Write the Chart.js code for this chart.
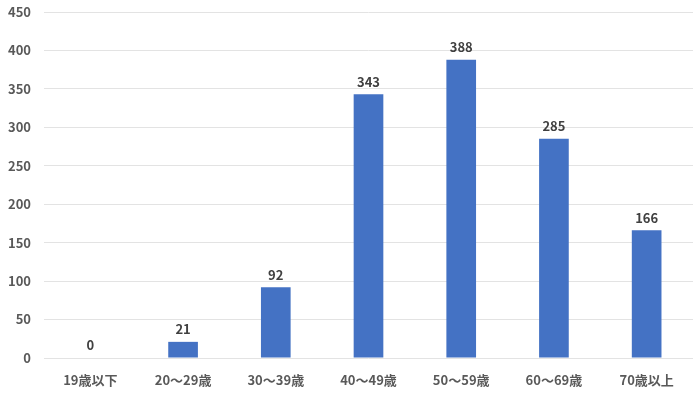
<!DOCTYPE html>
<html>
<head>
<meta charset="utf-8">
<script src="https://cdn.jsdelivr.net/npm/chart.js@4/dist/chart.umd.min.js"></script>
<style>
  html, body { margin: 0; padding: 0; background: #fff; }
  canvas { display: block; }
</style>
</head>
<body>
<canvas id="chart" width="700" height="394"></canvas>
<script>
const categories = ['19歳以下', '20～29歳', '30～39歳', '40～49歳', '50～59歳', '60～69歳', '70歳以上'];
const counts = [0, 21, 92, 343, 388, 285, 166];
const yTicks = [0, 50, 100, 150, 200, 250, 300, 350, 400, 450];

const fontFamily = '"Noto Sans CJK JP", "Noto Sans", sans-serif';

// draw value labels above each bar
const valueLabels = {
    id: 'valueLabels',
    afterDatasetsDraw(chart) {
        const ctx = chart.ctx;
        const meta = chart.getDatasetMeta(0);
        ctx.save();
        ctx.font = 'bold 13px ' + fontFamily;
        ctx.fillStyle = '#404040';
        ctx.textAlign = 'center';
        ctx.textBaseline = 'bottom';
        meta.data.forEach((bar, i) => {
            ctx.fillText(String(counts[i]), bar.x, bar.y - 6);
        });
        ctx.restore();
    }
};

new Chart(document.getElementById('chart'), {
    type: 'bar',
    data: {
        labels: categories,
        datasets: [{
            data: counts,
            backgroundColor: '#4472C4',
            categoryPercentage: 1,
            barPercentage: 0.32
        }]
    },
    options: {
        responsive: false,
        animation: false,
        layout: { padding: { top: 12, right: 7, left: 0, bottom: 0 } },
        plugins: { legend: { display: false }, tooltip: { enabled: false } },
        scales: {
            x: {
                grid: { display: false },
                border: { display: false },
                ticks: {
                    color: '#595959',
                    font: { family: fontFamily, size: 13, weight: 'bold' },
                    padding: 6,
                    maxRotation: 0
                },
                afterFit(scale) { scale.height = 36; }
            },
            y: {
                min: 0,
                max: 450,
                afterBuildTicks(scale) { scale.ticks = yTicks.map(v => ({ value: v })); },
                grid: { color: '#e3e3e3', drawTicks: false },
                border: { display: false },
                ticks: {
                    color: '#595959',
                    font: { family: fontFamily, size: 13, weight: 'bold' },
                    padding: 13
                },
                afterFit(scale) {
                    scale.width = 44;
                    scale.paddingTop = 0;
                    scale.paddingBottom = 0;
                }
            }
        }
    },
    plugins: [valueLabels]
});
</script>
</body>
</html>
